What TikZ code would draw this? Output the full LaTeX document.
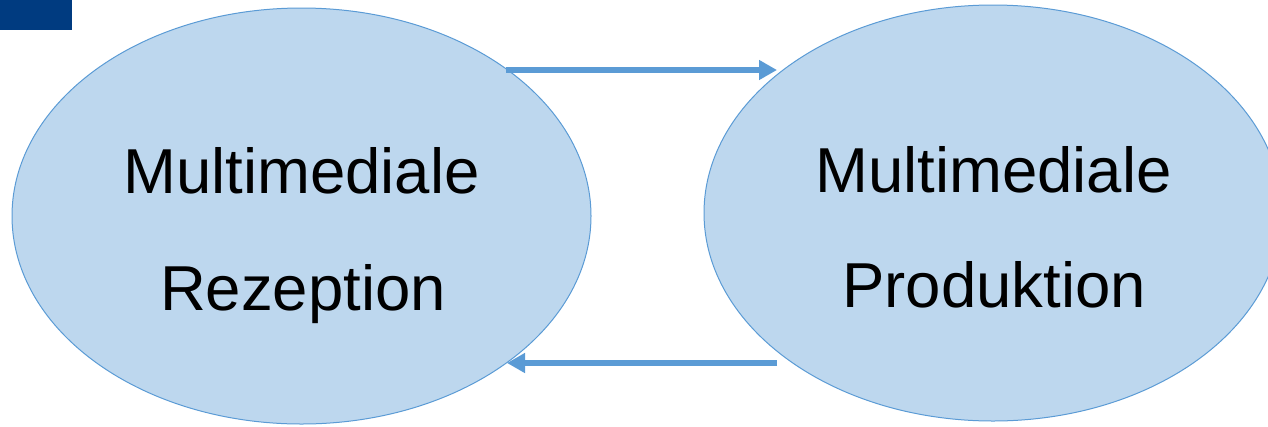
\documentclass[tikz,border=0pt]{standalone}
\usepackage{fontspec}
\setmainfont{Liberation Sans}
\usetikzlibrary{shapes.geometric,arrows.meta}
\definecolor{fillblue}{RGB}{189,215,238}
\definecolor{edgeblue}{RGB}{91,155,213}
\definecolor{darkblue}{RGB}{0,59,128}
\tikzset{
  bubble/.style={ellipse, draw=edgeblue, fill=fillblue, line width=1pt, inner sep=0pt},
  label/.style={anchor=base, font=\fontsize{63.5}{63.5}\selectfont, inner sep=0pt},
  flow/.style={draw=edgeblue, line width=6pt, -{Triangle[length=18pt,width=19pt]}, shorten >=0pt}
}
\begin{document}
\begin{tikzpicture}[x=1pt,y=-1pt]
\useasboundingbox (0,0) rectangle (1268,426);
\clip (0,0) rectangle (1268,426);
\node[bubble, minimum width=579pt, minimum height=416pt] (L) at (301.5,216) {};
\node[bubble, minimum width=578pt, minimum height=416pt] (R) at (993,213) {};
\fill[darkblue] (0,0) rectangle (72,30);
\node[label] (l1) at (301.5,193) {Multimediale};
\node[label] (l2) at (303,310) {Rezeption};
\node[label] (r1) at (993.5,192) {Multimediale};
\node[label] (r2) at (994,307) {Produktion};
\coordinate (t1) at (506,70);
\coordinate (t2) at (777,70);
\coordinate (b1) at (777,363);
\coordinate (b2) at (507,363);
\draw[flow] (t1) -- (t2);
\draw[flow] (b1) -- (b2);
\end{tikzpicture}
\end{document}
